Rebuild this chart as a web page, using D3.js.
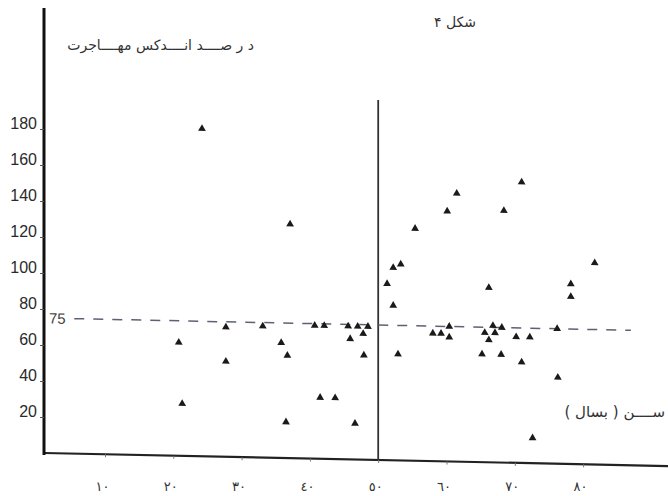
<!DOCTYPE html>
<html>
<head>
<meta charset="utf-8">
<script src="https://cdn.jsdelivr.net/npm/d3@7"></script>
<style>
  html, body { margin: 0; padding: 0; background: #fff; }
  svg { display: block; }
</style>
</head>
<body>
<script>
// Age (years) against migration index percent
const ages = [
  24.2, 37.1, 27.7, 33.1, 20.8, 27.7, 21.3, 35.8, 36.7, 36.5,
  41.5, 43.7, 40.7, 42.1, 45.6, 47.0, 48.5, 45.9, 47.8, 47.9,
  46.6, 61.5, 60.1, 68.4, 71.0, 55.4, 53.3, 52.2, 51.3, 52.2,
  52.9, 58.0, 59.2, 60.4, 60.4, 66.2, 65.6, 66.8, 68.1, 66.2,
  67.1, 65.2, 68.0, 70.2, 71.0, 81.7, 78.2, 78.2, 76.2, 72.2,
  76.3, 72.6
];
const indexPct = [
  182, 130, 72, 73, 63, 53, 29, 64, 57, 20,
  34, 34, 74, 74, 74, 74, 74, 67, 70, 58,
  20, 149, 139, 140, 156, 129, 109, 107, 98, 86,
  59, 71, 71, 75, 69, 97, 72, 76, 75, 68,
  72, 60, 60, 70, 56, 112, 100, 93, 75, 70,
  48, 14
];
const yTicks = [20, 40, 60, 80, 100, 120, 140, 160, 180];
const xTicks = [10, 20, 30, 40, 50, 60, 70, 80];
const xTickLabels = ["١٠", "٢٠", "٣٠", "٤٠", "٥٠", "٦٠", "٧٠", "٨٠"];
const refValue = 75;      // dashed reference line
const splitAge = 50;      // solid vertical divider

const title = "شکل ۴";
const yTitle = "د ر صــــد  انــــدکس مهــــاجرت";
const xTitle = "\u200Fســــن ( بسال )\u200F";

const width = 668, height = 496;
const axisX = 44;

const svg = d3.select("body").append("svg")
  .attr("width", width)
  .attr("height", height);

const x = d3.scaleLinear().domain([0, 90]).range([36.7, 36.7 + 6.83 * 90]);
const y = d3.scaleLinear().domain([0, 250]).range([453, 3]);

// the scan is slightly sheared: horizontals drop to the right
const plot = svg.append("g")
  .attr("transform", `translate(${axisX},0) skewY(1.2) translate(${-axisX},0)`);

// x axis line + tiny ticks (sheared with the plot)
plot.append("line")
  .attr("x1", axisX).attr("x2", width + 4)
  .attr("y1", y(0)).attr("y2", y(0))
  .attr("stroke", "#222").attr("stroke-width", 2.2);

const xTickG = plot.append("g")
  .attr("transform", `translate(0,${y(0)})`)
  .call(d3.axisBottom(x).tickValues(xTicks).tickFormat("").tickSize(3));
xTickG.select(".domain").remove();
xTickG.selectAll("line").attr("stroke", "#777");

// x tick labels (Arabic-Indic digits)
const xLab = svg.append("g")
  .attr("transform", `translate(0,${y(0)})`)
  .call(d3.axisBottom(x).tickValues(xTicks)
    .tickFormat((d, i) => xTickLabels[i])
    .tickSize(0).tickPadding(29));
xLab.select(".domain").remove();
xLab.selectAll("text")
  .attr("font-family", "DejaVu Sans, sans-serif")
  .attr("font-size", 13)
  .attr("fill", "#333")
  .attr("dx", -3);

// vertical divider at 50
plot.append("line")
  .attr("x1", x(splitAge)).attr("x2", x(splitAge))
  .attr("y1", y(200)).attr("y2", y(0))
  .attr("stroke", "#333").attr("stroke-width", 1.8);

// dashed reference line
plot.append("line")
  .attr("x1", x(5.5)).attr("x2", x(87))
  .attr("y1", y(refValue)).attr("y2", y(refValue))
  .attr("stroke", "#5c6272").attr("stroke-width", 1.5)
  .attr("stroke-dasharray", "10,9");

plot.append("text")
  .attr("x", axisX + 5).attr("y", y(refValue))
  .attr("dy", "0.36em")
  .attr("font-family", "Liberation Sans, Arial, sans-serif")
  .attr("font-size", 15)
  .attr("fill", "#444")
  .text(refValue);

// points
plot.append("g").selectAll("path")
  .data(ages.map((a, i) => [a, indexPct[i]]))
  .join("path")
  .attr("transform", d => `translate(${x(d[0])},${y(d[1])})`)
  .attr("d", d3.symbol(d3.symbolTriangle, 26))
  .attr("fill", "#1a1a1a");

// y axis
svg.append("line")
  .attr("x1", axisX).attr("x2", axisX)
  .attr("y1", 8).attr("y2", y(0) + 2)
  .attr("stroke", "#111").attr("stroke-width", 3);

const yAxis = svg.append("g")
  .attr("transform", `translate(${axisX},0)`)
  .call(d3.axisLeft(y).tickValues(yTicks).tickSize(4).tickPadding(3));
yAxis.select(".domain").remove();
yAxis.selectAll("line").attr("stroke", "#555");
yAxis.selectAll("text")
  .attr("font-family", "Liberation Sans, Arial, sans-serif")
  .attr("font-size", 16)
  .attr("fill", "#2a2a2a")
  .attr("dy", "-0.05em");

// titles
svg.append("text")
  .attr("x", 476).attr("y", 27)
  .attr("text-anchor", "end")
  .attr("font-family", "DejaVu Sans, sans-serif")
  .attr("font-size", 14)
  .attr("fill", "#333")
  .text(title);

svg.append("text")
  .attr("x", 254).attr("y", 50)
  .attr("text-anchor", "end")
  .attr("font-family", "DejaVu Sans, sans-serif")
  .attr("font-size", 14)
  .attr("fill", "#333")
  .text(yTitle);

svg.append("text")
  .attr("x", 665).attr("y", 417)
  .attr("text-anchor", "end")
  .attr("font-family", "DejaVu Sans, sans-serif")
  .attr("font-size", 15)
  .attr("fill", "#333")
  .text(xTitle);
</script>
</body>
</html>
